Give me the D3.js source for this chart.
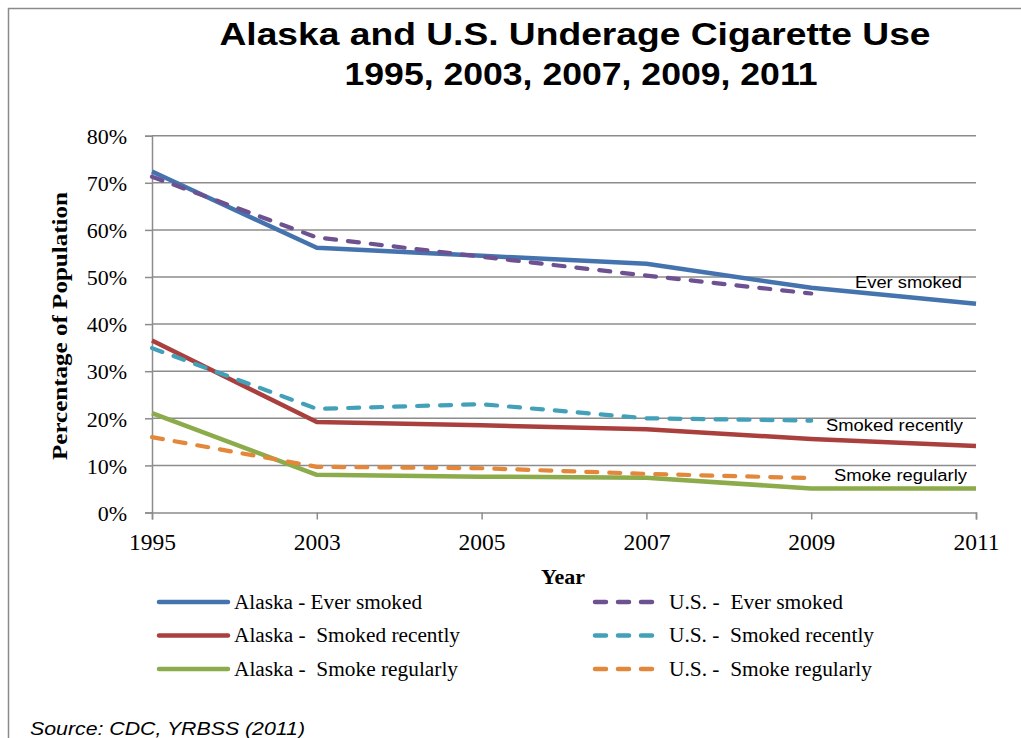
<!DOCTYPE html>
<html>
<head>
<meta charset="utf-8">
<script src="https://cdn.jsdelivr.net/npm/d3@7"></script>
<style>
  html, body { margin: 0; padding: 0; background: #fff; }
  svg { display: block; }
  .pre { white-space: pre; }
</style>
</head>
<body>
<svg id="chart" width="1021" height="738"></svg>
<script>
// ---- data ----
const years = ["1995", "2003", "2005", "2007", "2009", "2011"];
const yTicks = [0, 0.1, 0.2, 0.3, 0.4, 0.5, 0.6, 0.7, 0.8];
const alaskaEver      = [0.724, 0.562, 0.545, 0.528, 0.477, 0.443];
const alaskaRecent    = [0.365, 0.192, 0.185, 0.177, 0.156, 0.141];
const alaskaRegular   = [0.211, 0.080, 0.076, 0.074, 0.051, 0.051];
const usEver          = [0.713, 0.584, 0.543, 0.503, 0.465];
const usRecent        = [0.349, 0.220, 0.230, 0.200, 0.195];
const usRegular       = [0.160, 0.097, 0.094, 0.082, 0.073];
const seriesNames = ["Alaska - Ever smoked", "Alaska -  Smoked recently", "Alaska -  Smoke regularly",
                     "U.S. -  Ever smoked", "U.S. -  Smoked recently", "U.S. -  Smoke regularly"];
const seriesLabels = ["Ever smoked", "Smoked recently", "Smoke regularly"];

const series = [
  {name: seriesNames[0], values: alaskaEver,    color: "#4573AE", dashed: false, lw: 188},
  {name: seriesNames[1], values: alaskaRecent,  color: "#A9403E", dashed: false, lw: 226},
  {name: seriesNames[2], values: alaskaRegular, color: "#8CAB4A", dashed: false, lw: 224},
  {name: seriesNames[3], values: usEver,        color: "#6D5190", dashed: true,  lw: 174},
  {name: seriesNames[4], values: usRecent,      color: "#42A0B8", dashed: true,  lw: 205},
  {name: seriesNames[5], values: usRegular,     color: "#E3873A", dashed: true,  lw: 203}
];

const svg = d3.select("#chart");

// outer frame
svg.append("path")
  .attr("d", "M8.5,738 V8.5 H1021")
  .attr("fill", "none").attr("stroke", "#8a8a8a").attr("stroke-width", 1.5);

// title
svg.append("text").attr("x", 575).attr("y", 45).attr("text-anchor", "middle")
  .attr("font-family", "Liberation Sans, Arial, sans-serif").attr("font-weight", "bold")
  .attr("font-size", 32).attr("textLength", 711).attr("lengthAdjust", "spacingAndGlyphs")
  .text("Alaska and U.S. Underage Cigarette Use");
svg.append("text").attr("x", 581).attr("y", 85).attr("text-anchor", "middle")
  .attr("font-family", "Liberation Sans, Arial, sans-serif").attr("font-weight", "bold")
  .attr("font-size", 32).attr("textLength", 473).attr("lengthAdjust", "spacingAndGlyphs")
  .text("1995, 2003, 2007, 2009, 2011");

// scales
const x = d3.scalePoint().domain(years).range([152, 976]);
const y = d3.scaleLinear().domain([0, 0.8]).range([512.5, 135.7]);

const grid = "#8c8c8c";

// gridlines
svg.append("g").selectAll("line").data(yTicks.filter(d => d > 0)).join("line")
  .attr("x1", 152).attr("x2", 976)
  .attr("y1", d => y(d)).attr("y2", d => y(d))
  .attr("stroke", grid).attr("stroke-width", 1.5);

// y axis
const yAxis = svg.append("g").attr("transform", "translate(152,0)")
  .call(d3.axisLeft(y).tickValues(yTicks).tickFormat(d3.format(".0%")).tickSize(7).tickPadding(18));
yAxis.select(".domain").attr("stroke", grid).attr("stroke-width", 1.5);
yAxis.selectAll(".tick line").attr("stroke", grid).attr("stroke-width", 1.5);
yAxis.selectAll(".tick text").attr("font-family", "Liberation Serif, Times New Roman, serif")
  .attr("font-size", 22).attr("fill", "#000").attr("dy", "0.35em");

// x axis
const xAxis = svg.append("g").attr("transform", "translate(0,512.5)")
  .call(d3.axisBottom(x).tickSize(7).tickPadding(14));
xAxis.select(".domain").attr("stroke", grid).attr("stroke-width", 1.5);
xAxis.selectAll(".tick line").attr("stroke", grid).attr("stroke-width", 1.5);
xAxis.selectAll(".tick text").attr("font-family", "Liberation Serif, Times New Roman, serif")
  .attr("font-size", 23.5).attr("fill", "#000").attr("dy", "0.71em");

// axis titles
svg.append("text").attr("x", 563).attr("y", 584).attr("text-anchor", "middle")
  .attr("font-family", "Liberation Serif, Times New Roman, serif").attr("font-weight", "bold")
  .attr("font-size", 22).text("Year");
svg.append("text").attr("transform", "translate(67,326) rotate(-90)").attr("text-anchor", "middle")
  .attr("font-family", "Liberation Serif, Times New Roman, serif").attr("font-weight", "bold")
  .attr("font-size", 22).attr("textLength", 268).attr("lengthAdjust", "spacingAndGlyphs")
  .text("Percentage of Population");

// lines
const line = d3.line().x((d, i) => x(years[i])).y(d => y(d));
svg.append("g").selectAll("path").data(series).join("path")
  .attr("d", d => line(d.values))
  .attr("fill", "none")
  .attr("stroke", d => d.color)
  .attr("stroke-width", d => d.dashed ? 4.2 : 4.5)
  .attr("stroke-linecap", d => d.dashed ? "round" : "butt")
  .attr("stroke-linejoin", "round")
  .attr("stroke-dasharray", d => d.dashed ? "11,12" : null);

// in-plot labels
const labelPos = [
  {text: seriesLabels[0], x: 855, y: 288, w: 107},
  {text: seriesLabels[1], x: 826, y: 431, w: 137},
  {text: seriesLabels[2], x: 834, y: 481, w: 133}
];
svg.append("g").selectAll("text").data(labelPos).join("text")
  .attr("x", d => d.x).attr("y", d => d.y)
  .attr("font-family", "Liberation Sans, Arial, sans-serif").attr("font-size", 16)
  .attr("textLength", d => d.w).attr("lengthAdjust", "spacingAndGlyphs")
  .text(d => d.text);

// legend
const legend = svg.append("g");
series.forEach((s, i) => {
  const row = i % 3;
  const yy = 602 + row * 33.5;
  const g = legend.append("g");
  const lx1 = s.dashed ? 595 : 159, lx2 = s.dashed ? 655 : 228, tx = s.dashed ? 669 : 234;
  g.append("line").attr("x1", lx1).attr("x2", lx2).attr("y1", yy).attr("y2", yy)
    .attr("stroke", s.color).attr("stroke-width", 4.5).attr("stroke-linecap", "round")
    .attr("stroke-dasharray", s.dashed ? "11,12" : null);
  g.append("text").attr("class", "pre").attr("x", tx).attr("y", yy + 6.5)
    .attr("font-family", "Liberation Serif, Times New Roman, serif").attr("font-size", 20)
    .attr("textLength", s.lw).attr("lengthAdjust", "spacingAndGlyphs")
    .text(s.name);
});

// source
svg.append("text").attr("x", 30).attr("y", 735)
  .attr("font-family", "Liberation Sans, Arial, sans-serif").attr("font-style", "italic")
  .attr("font-size", 18).attr("textLength", 275).attr("lengthAdjust", "spacingAndGlyphs")
  .text("Source: CDC, YRBSS (2011)");
</script>
</body>
</html>
